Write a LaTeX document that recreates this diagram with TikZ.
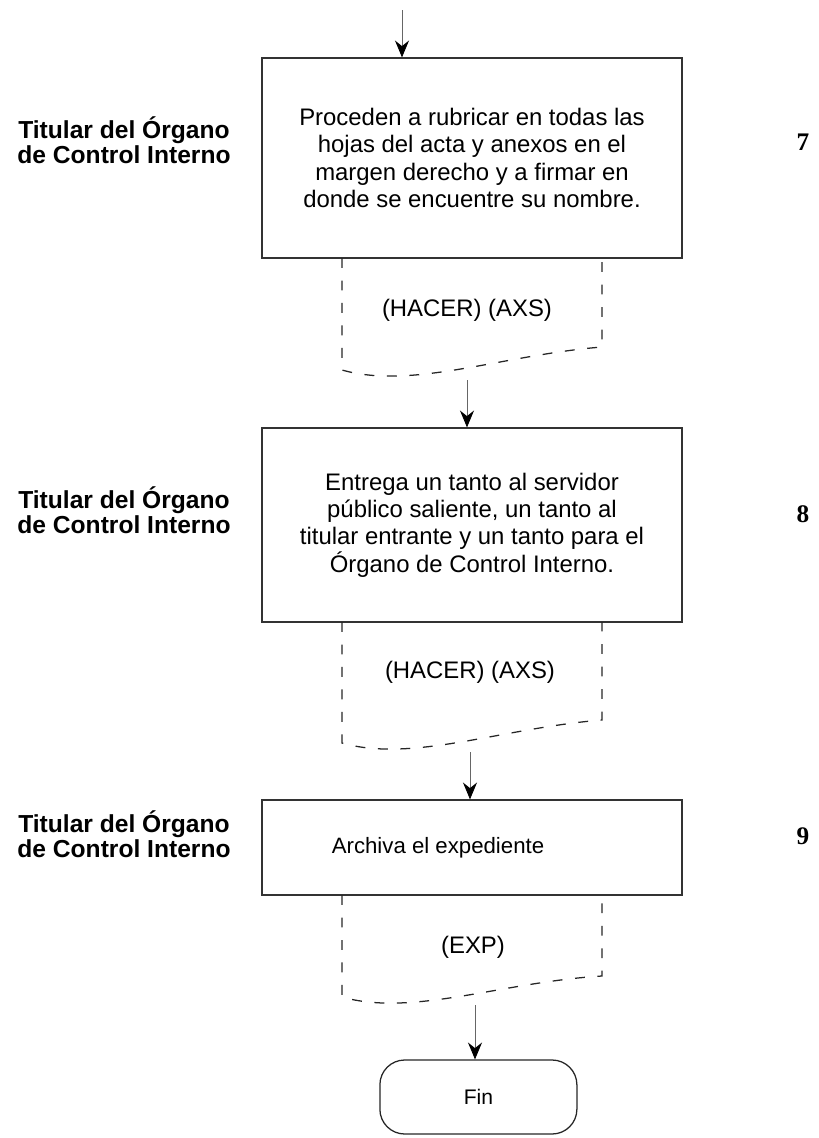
\documentclass[tikz,border=0pt]{standalone}
\usepackage{fontspec}
\setmainfont{Liberation Sans}
\newfontfamily\numfont{Liberation Serif}
\usetikzlibrary{arrows.meta,positioning}
\tikzset{
    flowarrow/.style={ % thin shaft, barbed tip
        draw=black!60,
        line width=0.6pt,
        -{Stealth[length=12pt,width=10pt,inset=4pt,color=black]}
    },
}
\begin{document}
\begin{tikzpicture}
\tikzstyle{procbox}=[rectangle,draw=black!80,line width=0.9pt,minimum width=10.5cm,inner sep=0pt,align=center,font=\fontsize{17}{19.5}\selectfont]
\tikzstyle{docline}=[draw=black!85,line width=0.9pt,dash pattern=on 7pt off 9pt]
\tikzstyle{doctext}=[font=\fontsize{17}{19.5}\selectfont]
\tikzstyle{actor}=[align=center,font=\bfseries\fontsize{17.5}{18}\selectfont]
\tikzstyle{stepnum}=[font=\numfont\bfseries\fontsize{18}{18}\selectfont]
\tikzstyle{terminal}=[rectangle,rounded corners=0.62cm,draw=black!85,line width=0.9pt,minimum width=4.925cm,minimum height=1.85cm,font=\fontsize{15}{17}\selectfont]

\useasboundingbox (0,0) rectangle (20.475,-28.45);

%START
\coordinate (start) at (10.05,-0.25);

%%%%%%%%%%%%%%%%%%%%%%%%%%%%%%%%%%%%%%%%%%%%%%%%%%%%%%%%%%%%%%%%%%%%%%%%
%step 7
\node[actor] (actor7) at (3.1,-3.5) {Titular del Órgano\\de Control Interno};
\node[procbox,minimum height=5cm] (step7) at (11.8,-3.95) {Proceden a rubricar en todas las\\hojas del acta y anexos en el\\margen derecho y a firmar en\\donde se encuentre su nombre.};
\node[stepnum] (num7) at (20.075,-3.55) {7};
% document
\coordinate (doc7tl) at (8.55,-6.45);
\coordinate (doc7bl) at (8.55,-9.25);
\coordinate (doc7br) at (15.05,-8.675);
\coordinate (doc7tr) at (15.05,-6.45);
\draw[docline] (doc7tl) -- (doc7bl) .. controls (10.3,-9.75) and (12.55,-8.875) .. (doc7br) -- (doc7tr);
\node[doctext] (doc7) at (11.675,-7.75) {(HACER) (AXS)};
\coordinate (out7) at (11.675,-9.5);

%%%%%%%%%%%%%%%%%%%%%%%%%%%%%%%%%%%%%%%%%%%%%%%%%%%%%%%%%%%%%%%%%%%%%%%%
%step 8
\node[actor] (actor8) at (3.1,-12.75) {Titular del Órgano\\de Control Interno};
\node[procbox,minimum height=4.85cm] (step8) at (11.8,-13.125) {Entrega un tanto al servidor\\público saliente, un tanto al\\titular entrante y un tanto para el\\Órgano de Control Interno.};
\node[stepnum] (num8) at (20.075,-12.85) {8};
% document
\coordinate (doc8tl) at (8.55,-15.55);
\coordinate (doc8bl) at (8.55,-18.575);
\coordinate (doc8br) at (15.05,-18.0);
\coordinate (doc8tr) at (15.05,-15.55);
\draw[docline] (doc8tl) -- (doc8bl) .. controls (10.3,-19.075) and (12.55,-18.2) .. (doc8br) -- (doc8tr);
\node[doctext] (doc8) at (11.75,-16.8) {(HACER) (AXS)};
\coordinate (out8) at (11.75,-18.8);

%%%%%%%%%%%%%%%%%%%%%%%%%%%%%%%%%%%%%%%%%%%%%%%%%%%%%%%%%%%%%%%%%%%%%%%%
%step 9
\node[actor] (actor9) at (3.1,-20.85) {Titular del Órgano\\de Control Interno};
\node[procbox,minimum height=2.375cm] (step9) at (11.8,-21.1875) {};
\node[doctext,font=\fontsize{15.8}{18}\selectfont] (step9text) at (10.95,-21.2) {Archiva el expediente};
\node[stepnum] (num9) at (20.075,-20.9) {9};
% document
\coordinate (doc9tl) at (8.55,-22.375);
\coordinate (doc9bl) at (8.55,-24.925);
\coordinate (doc9br) at (15.05,-24.4);
\coordinate (doc9tr) at (15.05,-22.375);
\draw[docline] (doc9tl) -- (doc9bl) .. controls (10.3,-25.425) and (12.55,-24.55) .. (doc9br) -- (doc9tr);
\node[doctext] (doc9) at (11.825,-23.675) {(EXP)};
\coordinate (out9) at (11.875,-25.125);

%END
\node[terminal] (fin) at (11.96,-27.425) {Fin};

%%%%%%%%%%%%%%%%%%%%%%%%%%%%%%%%%%%%%%%%%%%%%%%%%%%%%%%%%%%%%%
%ARROWS
\draw[flowarrow] (start) -- (start |- step7.north);
\draw[flowarrow] (out7) -- (out7 |- step8.north);
\draw[flowarrow] (out8) -- (out8 |- step9.north);
\draw[flowarrow] (out9) -- (out9 |- fin.north);

\end{tikzpicture}
\end{document}
